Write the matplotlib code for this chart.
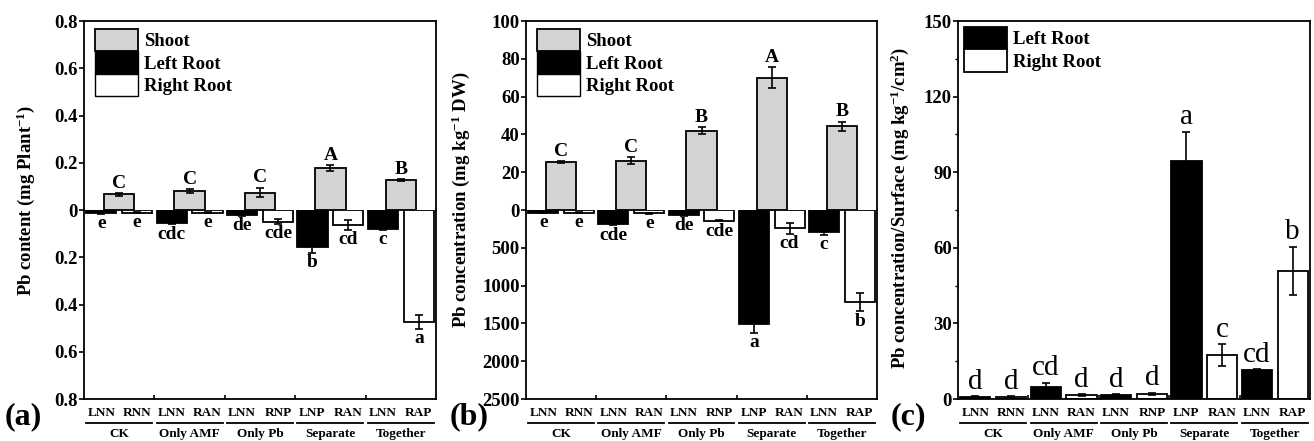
import numpy as np
import matplotlib.pyplot as plt
from matplotlib.transforms import offset_copy

plt.rcParams['font.family'] = ['Liberation Serif', 'DejaVu Serif']
plt.rcParams['font.weight'] = 'bold'
plt.rcParams['mathtext.default'] = 'regular'

# groups and bar codes
groups = ['CK', 'Only AMF', 'Only Pb', 'Separate', 'Together']
left_codes = ['LNN', 'LNN', 'LNN', 'LNP', 'LNN']
right_codes = ['RNN', 'RAN', 'RNP', 'RAN', 'RAP']

# (a) Pb content (mg plant-1)
a_shoot = [0.066, 0.080, 0.074, 0.178, 0.127]
a_shoot_err = [0.005, 0.008, 0.020, 0.012, 0.003]
a_shoot_let = ['C', 'C', 'C', 'A', 'B']
a_left = [0.014, 0.054, 0.021, 0.155, 0.080]
a_left_err = [0.003, 0.006, 0.004, 0.025, 0.005]
a_left_let = ['e', 'cdc', 'de', 'b', 'c']
a_right = [0.011, 0.011, 0.049, 0.063, 0.473]
a_right_err = [0.002, 0.002, 0.010, 0.020, 0.030]
a_right_let = ['e', 'e', 'cde', 'cd', 'a']

# (b) Pb concentration (mg kg-1 DW)
b_shoot = [25.2, 26.1, 42.0, 70.0, 44.4]
b_shoot_err = [0.5, 1.7, 1.9, 5.7, 2.4]
b_shoot_let = ['C', 'C', 'B', 'A', 'B']
b_left = [35, 185, 66, 1512, 295]
b_left_err = [5, 20, 10, 110, 35]
b_left_let = ['e', 'cde', 'de', 'a', 'c']
b_right = [35, 44, 141, 242, 1221]
b_right_err = [5, 10, 8, 70, 117]
b_right_let = ['e', 'e', 'cde', 'cd', 'b']

# (c) Pb concentration / surface
c_left = [0.8, 4.9, 1.5, 94.4, 11.5]
c_left_err = [0.2, 1.5, 0.4, 11.6, 0.4]
c_left_let = ['d', 'cd', 'd', 'a', 'cd']
c_right = [0.8, 1.5, 2.0, 17.5, 50.9]
c_right_err = [0.2, 0.3, 0.5, 4.3, 9.5]
c_right_let = ['d', 'd', 'd', 'c', 'b']

a_top_ticks = [0.2, 0.4, 0.6, 0.8]
a_bot_ticks = [0, 0.2, 0.4, 0.6, 0.8]
a_top_labels = ['0.2', '0.4', '0.6', '0.8']
a_bot_labels = ['0', '0.2', '0.4', '0.6', '0.8']
b_top_ticks = [20, 40, 60, 80, 100]
b_bot_ticks = [0, 500, 1000, 1500, 2000, 2500]
c_ticks = [0, 30, 60, 90, 120, 150]

GRAY = '#d3d3d3'
x = np.arange(len(groups))
W = 0.43
OFF = 0.255
ekw = dict(elinewidth=1.2, capthick=1.2)

fig = plt.figure(figsize=(13.14, 4.41), dpi=100)
H = 441.0
FW = 1314.0


def style(ax):
    for s in ax.spines.values():
        s.set_linewidth(1.3)
    ax.tick_params(axis='y', direction='out', length=3.5, width=1.2, labelsize=13.5, pad=1)
    ax.set_xlim(-0.5, 4.5)


def bottom_labels(ax):
    t_sub = offset_copy(ax.get_xaxis_transform(), fig=fig, y=-14, units='dots')
    t_line = offset_copy(ax.get_xaxis_transform(), fig=fig, y=-24, units='dots')
    t_grp = offset_copy(ax.get_xaxis_transform(), fig=fig, y=-35, units='dots')
    for i in range(len(groups)):
        ax.text(x[i] - OFF, 0, left_codes[i], transform=t_sub, ha='center', va='center', fontsize=9.5)
        ax.text(x[i] + OFF, 0, right_codes[i], transform=t_sub, ha='center', va='center', fontsize=9.5)
        ax.plot([x[i] - 0.47, x[i] + 0.47], [0, 0], transform=t_line, color='k', lw=1.3, clip_on=False)
        ax.text(x[i], 0, groups[i], transform=t_grp, ha='center', va='center', fontsize=9.5)
    ax.set_xticks([0.5, 1.5, 2.5, 3.5])
    ax.set_xticklabels([])
    ax.tick_params(axis='x', direction='in', length=3, width=1.2)


def letters(ax, xs, vals, errs, labs, up, size=14, weight='bold'):
    for xi, v, e, l in zip(xs, vals, errs, labs):
        ax.annotate(l, (xi, v + e), xytext=(0, 1 if up else -1), textcoords='offset points',
                    ha='center', va='bottom' if up else 'top', fontsize=size, fontweight=weight)


def split_panel(left_px, width_px, shoot, shoot_err, shoot_let, lv, le, ll, rv, re_, rl,
                top_max, bot_max, top_ticks, bot_ticks, top_labels, bot_labels):
    top = fig.add_axes([left_px / FW, 1 - 210 / H, width_px / FW, 189 / H])
    bot = fig.add_axes([left_px / FW, 1 - 399 / H, width_px / FW, 189 / H])
    for ax in (top, bot):
        style(ax)
        ax.set_facecolor('none')
    top.spines['bottom'].set_visible(False)
    bot.spines['top'].set_visible(False)
    top.set_ylim(0, top_max)
    bot.set_ylim(bot_max, 0)
    top.set_xticks([])
    top.set_yticks(top_ticks)
    top.set_yticklabels(top_labels)
    bot.set_yticks(bot_ticks)
    bot.set_yticklabels(bot_labels)

    top.bar(x, shoot, W, color=GRAY, edgecolor='k', lw=1.3, yerr=shoot_err, capsize=3,
            error_kw=ekw, label='Shoot', clip_on=False)
    bot.bar(x - OFF, lv, W, color='k', edgecolor='k', lw=1.3, yerr=le, capsize=3, error_kw=ekw)
    bot.bar(x + OFF, rv, W, color='white', edgecolor='k', lw=1.3, yerr=re_, capsize=3, error_kw=ekw)
    # legend handles on the top axis
    top.bar([0], [0], 0, color='k', edgecolor='k', label='Left Root')
    top.bar([0], [0], 0, color='white', edgecolor='k', label='Right Root')
    h, lab = top.get_legend_handles_labels()
    top.legend(h, lab, loc='upper left', bbox_to_anchor=(11 / width_px, 1 - 8 / 189.0),
               frameon=False, borderpad=0, borderaxespad=0, labelspacing=0,
               handlelength=2.3, handleheight=1.45, handletextpad=0.3, fontsize=13.5)

    letters(top, x, shoot, shoot_err, shoot_let, True)
    letters(bot, x - OFF, lv, le, ll, False)
    letters(bot, x + OFF, rv, re_, rl, False)
    bottom_labels(bot)
    return top, bot


# (a)
split_panel(84, 352, a_shoot, a_shoot_err, a_shoot_let, a_left, a_left_err, a_left_let,
            a_right, a_right_err, a_right_let, 0.8, 0.8,
            a_top_ticks, a_bot_ticks, a_top_labels, a_bot_labels)
fig.text(26 / FW, 1 - 200 / H, 'Pb content (mg Plant$^{-1}$)', rotation=90,
         ha='center', va='center', fontsize=13.5)
fig.text(5 / FW, 1 - 417 / H, '(a)', ha='left', va='center', fontsize=23)

# (b)
split_panel(526, 351, b_shoot, b_shoot_err, b_shoot_let, b_left, b_left_err, b_left_let,
            b_right, b_right_err, b_right_let, 100, 2500,
            b_top_ticks, b_bot_ticks, [str(t) for t in b_top_ticks], [str(t) for t in b_bot_ticks])
fig.text(461 / FW, 1 - 200 / H, 'Pb concentration (mg kg$^{-1}$ DW)', rotation=90,
         ha='center', va='center', fontsize=13.5)
fig.text(450 / FW, 1 - 417 / H, '(b)', ha='left', va='center', fontsize=23)

# (c)
axc = fig.add_axes([958 / FW, 1 - 399 / H, 352 / FW, 378 / H])
style(axc)
axc.set_ylim(0, 150)
axc.set_yticks(c_ticks)
axc.set_yticks([15, 45, 75, 105, 135], minor=True)
axc.tick_params(axis='y', which='minor', direction='out', length=2, width=1.0)
axc.bar(x - OFF, c_left, W, color='k', edgecolor='k', lw=1.3, yerr=c_left_err, capsize=3,
        error_kw=ekw, label='Left Root')
axc.bar(x + OFF, c_right, W, color='white', edgecolor='k', lw=1.3, yerr=c_right_err, capsize=3,
        error_kw=ekw, label='Right Root')
axc.legend(loc='upper left', bbox_to_anchor=(6 / 352, 1 - 6 / 378), frameon=False,
           borderpad=0, borderaxespad=0, labelspacing=0, handlelength=2.3,
           handleheight=1.45, handletextpad=0.3, fontsize=13.5)
letters(axc, x - OFF, c_left, c_left_err, c_left_let, True, size=21, weight='normal')
letters(axc, x + OFF, c_right, c_right_err, c_right_let, True, size=21, weight='normal')
bottom_labels(axc)
fig.text(900 / FW, 1 - 208 / H, 'Pb concentration/Surface (mg kg$^{-1}$/cm$^{2}$)', rotation=90,
         ha='center', va='center', fontsize=13.5)
fig.text(891 / FW, 1 - 417 / H, '(c)', ha='left', va='center', fontsize=23)

fig.savefig('out.png', dpi=100)
